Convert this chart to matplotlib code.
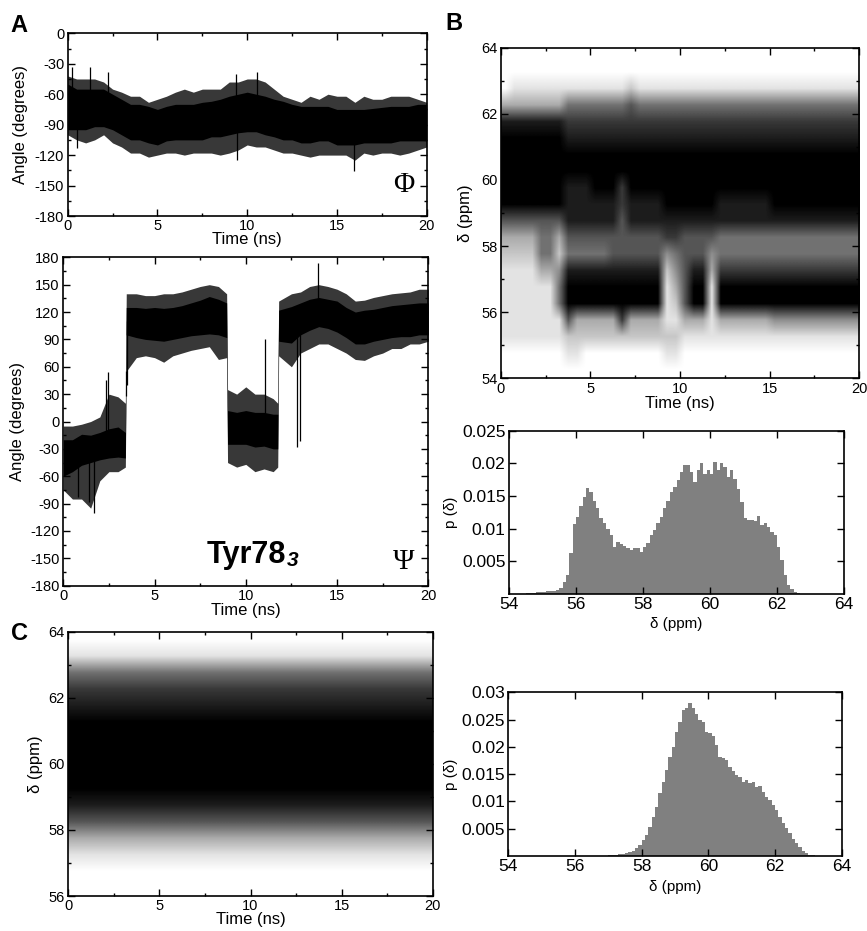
import numpy as np
import matplotlib
matplotlib.use("Agg")
import matplotlib.pyplot as plt
from matplotlib.ticker import MultipleLocator, FixedLocator, FormatStrFormatter

plt.rcParams['font.family'] = ['Liberation Sans', 'DejaVu Sans']
plt.rcParams['axes.unicode_minus'] = False

# ---------------- Panel A: Phi time series (envelopes read per 0.5 ns) -------------
phi_t = [0, 0.5, 1, 1.5, 2, 2.5, 3, 3.5, 4, 4.5, 5, 5.5, 6, 6.5, 7, 7.5, 8, 8.5, 9, 9.5, 10,
         10.5, 11, 11.5, 12, 12.5, 13, 13.5, 14, 14.5, 15, 15.5, 16, 16.5, 17, 17.5, 18, 18.5,
         19, 19.5, 20]
phi_core_hi = [-50, -55, -55, -55, -55, -60, -65, -70, -70, -72, -75, -72, -70, -70, -70, -68,
               -67, -65, -62, -60, -58, -60, -62, -65, -67, -70, -72, -72, -72, -72, -75, -75,
               -75, -75, -74, -73, -72, -72, -72, -70, -70]
phi_core_lo = [-95, -95, -95, -92, -92, -95, -100, -105, -105, -108, -110, -106, -105, -105,
               -105, -105, -102, -102, -100, -98, -97, -97, -100, -102, -105, -105, -108, -108,
               -106, -106, -110, -110, -110, -108, -108, -108, -108, -106, -106, -106, -106]
phi_outer_hi = [-42, -45, -45, -45, -48, -55, -58, -62, -62, -68, -65, -62, -58, -55, -58, -55,
                -55, -55, -48, -48, -45, -45, -48, -55, -62, -65, -68, -62, -65, -60, -62, -62,
                -68, -62, -65, -65, -62, -62, -62, -65, -68]
phi_outer_lo = [-100, -105, -108, -105, -100, -108, -112, -118, -118, -122, -120, -118, -118,
                -120, -118, -118, -118, -120, -118, -115, -110, -112, -112, -115, -118, -118,
                -120, -122, -120, -120, -120, -120, -125, -118, -120, -118, -118, -120, -118,
                -115, -112]
phi_spike_t = [0.22, 0.54, 1.24, 2.27, 9.38, 9.45, 10.53, 15.97]
phi_spike_v = [-33, -113, -33, -38, -40, -125, -38, -136]

# ---------------- Panel A: Psi time series ------------------------------------------
psi_t = [0.0, 0.5, 1.0, 1.5, 2.0, 2.5, 3.0, 3.4, 3.45, 4.0, 4.5, 5.0, 5.5, 6.0, 6.5, 7.0,
         7.5, 8.0, 8.5, 8.95, 9.0, 9.5, 10.0, 10.5, 11.0, 11.5, 11.75, 11.8, 12.5, 13.0,
         13.5, 14.0, 14.5, 15.0, 15.5, 16.0, 16.5, 17.0, 17.5, 18.0, 18.5, 19.0, 19.5, 20.0]
psi_core_lo = [-60, -55, -48, -45, -42, -40, -39, -40, 95, 92, 90, 89, 88, 90, 92, 94, 95, 96,
               95, 92, -25, -25, -25, -28, -27, -30, -30, 88, 86, 95, 100, 104, 102, 98, 92,
               85, 85, 88, 90, 92, 93, 93, 95, 95]
psi_core_hi = [-20, -20, -14, -15, -12, -8, -6, -12, 125, 125, 124, 125, 124, 125, 127, 130,
               133, 137, 134, 130, 12, 10, 12, 10, 10, 8, 8, 122, 126, 130, 134, 136, 134, 132,
               125, 120, 122, 123, 125, 127, 128, 129, 130, 130]
psi_outer_lo = [-75, -85, -85, -95, -65, -55, -55, -50, 55, 70, 72, 70, 65, 72, 75, 78, 80,
                82, 68, 70, -45, -50, -47, -55, -52, -55, -50, 72, 60, 75, 80, 85, 85, 80, 75,
                68, 67, 72, 75, 80, 80, 85, 85, 88]
psi_outer_hi = [-5, -5, -3, 0, 5, 30, 27, 20, 140, 140, 138, 138, 140, 140, 142, 145, 148, 150,
                148, 140, 35, 30, 38, 30, 30, 25, 20, 132, 140, 142, 148, 150, 148, 145, 140,
                132, 133, 136, 138, 140, 141, 142, 145, 145]
psi_spike_t = [0.8, 1.4, 1.7, 2.35, 2.45, 3.42, 3.5, 11.05, 12.82, 12.97, 13.94]
psi_spike_v = [-83, -88, -100, 45, 54, 55, 40, 90, -28, -21, 174]

# ---------------- Panel B: scatter density (darkness 0-9), rows 64->54 ppm, 0.5 ns cols
B_delta_top, B_delta_bottom = 64, 54
B_dark = [
    "0000000" "00000000000" "0" "0" "000" "0" "0000000000000000",  # 63.75
    "0000000" "00000000000" "0" "0" "000" "0" "0000000000000000",  # 63.25
    "0111111" "11111112111" "1" "1" "111" "1" "1111111111111111",  # 62.75
    "3333333" "55555556555" "5" "5" "555" "5" "5555555555555555",  # 62.25
    "8888888" "77777777777" "7" "7" "777" "7" "7777777777777777",  # 61.75
    "9999999" "88888888888" "8" "8" "888" "8" "8888888888888888",  # 61.25
    "9999999" "99999999999" "9" "9" "999" "9" "9999999999999999",  # 60.75
    "9999999" "99999999999" "9" "9" "999" "9" "9999999999999999",  # 60.25
    "9999999" "88899979999" "9" "9" "999" "9" "9999999999999999",  # 59.75
    "9999999" "88888878888" "9" "9" "999" "9" "8888889999999999",  # 59.25
    "6666666" "88888868888" "8" "8" "888" "8" "8888888888888888",  # 58.75
    "3333553" "66666666666" "7" "7" "666" "6" "5555555555555555",  # 58.25
    "2222552" "55555666666" "4" "5" "666" "4" "5555555555555555",  # 57.75
    "1111334" "88888888888" "2" "4" "688" "3" "7777777777777777",  # 57.25
    "1111115" "99999999999" "1" "3" "699" "1" "9999999999999999",  # 56.75
    "1111115" "99999999999" "1" "2" "699" "1" "9999999999999999",  # 56.25
    "1111111" "63333373333" "1" "1" "333" "1" "3333334444444444",  # 55.75
    "1111111" "22222222222" "2" "2" "111" "1" "1111111111111111",  # 55.25
    "0000000" "11000000000" "1" "1" "000" "0" "0000000000000000",  # 54.75
    "0000000" "00000000000" "0" "0" "000" "0" "0000000000000000",  # 54.25
]

# ---------------- Panel B: histogram ---------------------------------------------
hB_first_center = 54.55
hB_width = 0.1
hB_p = [0.0001, 0.0001, 0.0002, 0.0003, 0.0003, 0.0003, 0.0004, 0.0004, 0.0005, 0.0006,
        0.0009, 0.0018, 0.0029, 0.0063, 0.0107, 0.0118, 0.0135, 0.0148, 0.0162, 0.0156,
        0.0143, 0.0131, 0.0117, 0.0108, 0.0100, 0.0090, 0.0072, 0.0080, 0.0077, 0.0074,
        0.0070, 0.0068, 0.0071, 0.0070, 0.0065, 0.0072, 0.0078, 0.0090, 0.0098, 0.0108,
        0.0118, 0.0131, 0.0143, 0.0156, 0.0164, 0.0174, 0.0187, 0.0198, 0.0198, 0.0187,
        0.0171, 0.0190, 0.0200, 0.0184, 0.0190, 0.0184, 0.0202, 0.0190, 0.0200, 0.0195,
        0.0179, 0.0190, 0.0176, 0.0161, 0.0141, 0.0116, 0.0113, 0.0114, 0.0112, 0.0119,
        0.0106, 0.0108, 0.0102, 0.0095, 0.0090, 0.0072, 0.0052, 0.0029, 0.0014, 0.0007,
        0.0003, 0.0001]

# ---------------- Panel C: scatter density profile (rows 64->56 ppm, 0.5 ppm) -------
C_delta_top, C_delta_bottom = 64, 56
C_dark = [0, 1, 5, 7, 8, 9, 9, 9, 9, 9, 8, 6, 3, 1, 0, 0]

# ---------------- Panel C: histogram ---------------------------------------------
hC_first_center = 57.05
hC_width = 0.1
hC_p = [0.0001, 0.0001, 0.0002, 0.0003, 0.0003, 0.0005, 0.0008, 0.0010, 0.0014, 0.0020,
        0.0029, 0.0038, 0.0054, 0.0072, 0.0090, 0.0115, 0.0136, 0.0158, 0.0182, 0.0200,
        0.0228, 0.0246, 0.0268, 0.0272, 0.0281, 0.0272, 0.0261, 0.0249, 0.0246, 0.0228,
        0.0225, 0.0219, 0.0203, 0.0182, 0.0179, 0.0176, 0.0164, 0.0155, 0.0148, 0.0145,
        0.0136, 0.0139, 0.0133, 0.0136, 0.0127, 0.0128, 0.0118, 0.0109, 0.0103, 0.0093,
        0.0084, 0.0072, 0.0060, 0.0051, 0.0042, 0.0032, 0.0023, 0.0016, 0.0010, 0.0005,
        0.0002, 0.0001]

# =====================================================================================
W, H = 867, 931
fig = plt.figure(figsize=(W / 100, H / 100), dpi=100)


def add_ax(l, r, t, b):
    return fig.add_axes([l / W, 1 - b / H, (r - l) / W, (b - t) / H])


def style(ax, fs):
    ax.tick_params(which='both', direction='in', top=True, right=True, labelsize=fs,
                   width=1.0, pad=2.5)
    ax.tick_params(which='major', length=5)
    ax.tick_params(which='minor', length=2.5)
    for s in ax.spines.values():
        s.set_linewidth(1.2)


def series(ax, t, clo, chi, olo, ohi, st, sv):
    t = np.asarray(t, float)
    ax.fill_between(t, olo, ohi, color='#383838', lw=0)
    ax.fill_between(t, clo, chi, color='black', lw=0)
    mid = (np.asarray(clo, float) + np.asarray(chi, float)) / 2
    base = np.interp(st, t, mid)
    ax.vlines(st, base, sv, color='black', lw=0.9)


def hist(ax, first_center, width, p):
    p = np.asarray(p, float)
    edges = first_center - width / 2 + width * np.arange(len(p) + 1)
    ax.stairs(p, edges, fill=True, color='#808080', lw=0)


# ---- A top (Phi)
axA1 = add_ax(67.7, 426.7, 33.3, 216)
series(axA1, phi_t, phi_core_lo, phi_core_hi, phi_outer_lo, phi_outer_hi, phi_spike_t, phi_spike_v)
axA1.set_xlim(0, 20)
axA1.set_ylim(-180, 0)
axA1.xaxis.set_major_locator(MultipleLocator(5))
axA1.xaxis.set_minor_locator(MultipleLocator(2.5))
axA1.yaxis.set_major_locator(MultipleLocator(30))
axA1.yaxis.set_minor_locator(MultipleLocator(15))
style(axA1, 10.5)
axA1.set_xlabel('Time (ns)', fontsize=12)
axA1.set_ylabel('Angle (degrees)', fontsize=12)
axA1.xaxis.set_label_coords(0.5, -0.088)
axA1.yaxis.set_label_coords(-0.111, 0.5)
axA1.text(18.73, -149.5, '\u03A6', family=['Liberation Serif', 'DejaVu Serif'], fontsize=21,
          ha='center', va='center')

# ---- A bottom (Psi)
axA2 = add_ax(63.3, 428.3, 257.3, 585.7)
series(axA2, psi_t, psi_core_lo, psi_core_hi, psi_outer_lo, psi_outer_hi, psi_spike_t, psi_spike_v)
axA2.set_xlim(0, 20)
axA2.set_ylim(-180, 180)
axA2.xaxis.set_major_locator(MultipleLocator(5))
axA2.xaxis.set_minor_locator(MultipleLocator(2.5))
axA2.yaxis.set_major_locator(MultipleLocator(30))
axA2.yaxis.set_minor_locator(MultipleLocator(15))
style(axA2, 10.5)
axA2.set_xlabel('Time (ns)', fontsize=12)
axA2.set_ylabel('Angle (degrees)', fontsize=12)
axA2.xaxis.set_label_coords(0.5, -0.053)
axA2.yaxis.set_label_coords(-0.105, 0.5)
axA2.text(18.67, -154, '\u03A8', family=['Liberation Serif', 'DejaVu Serif'], fontsize=21,
          ha='center', va='center')
tyr = axA2.text(7.86, -155, 'Tyr78', fontsize=22, fontweight='bold', ha='left', va='baseline')
axA2.annotate('3', xy=(1.0, 0.0), xycoords=tyr, xytext=(0.5, 0), textcoords='offset points',
              fontsize=15, fontweight='bold', style='italic', ha='left', va='bottom')

# ---- B top scatter density
axB1 = add_ax(500.7, 859.3, 47.7, 378.3)
Bimg = np.array([[int(c) for c in row] for row in B_dark], float)
axB1.imshow(Bimg, cmap='gray_r', vmin=0, vmax=9, aspect='auto', interpolation='bilinear',
            extent=(0, 20, B_delta_bottom, B_delta_top), origin='upper')
axB1.set_xlim(0, 20)
axB1.set_ylim(54, 64)
axB1.xaxis.set_major_locator(MultipleLocator(5))
axB1.xaxis.set_minor_locator(MultipleLocator(2.5))
axB1.yaxis.set_major_locator(MultipleLocator(2))
axB1.yaxis.set_minor_locator(MultipleLocator(1))
style(axB1, 10.5)
axB1.set_xlabel('Time (ns)', fontsize=12)
axB1.set_ylabel('\u03B4 (ppm)', fontsize=12)
axB1.xaxis.set_label_coords(0.5, -0.054)
axB1.yaxis.set_label_coords(-0.077, 0.5)

# ---- B histogram
axB2 = add_ax(509, 844, 430.7, 594)
hist(axB2, hB_first_center, hB_width, hB_p)
axB2.set_xlim(54, 64)
axB2.set_ylim(0, 0.025)
axB2.xaxis.set_major_locator(MultipleLocator(2))
axB2.yaxis.set_major_locator(FixedLocator([0.005, 0.01, 0.015, 0.02, 0.025]))
axB2.yaxis.set_major_formatter(FormatStrFormatter('%g'))
style(axB2, 12.5)
axB2.set_xlabel('\u03B4 (ppm)', fontsize=11)
axB2.set_ylabel('p (\u03B4)', fontsize=11)
axB2.xaxis.set_label_coords(0.5, -0.141)
axB2.yaxis.set_label_coords(-0.152, 0.5)

# ---- C scatter density
axC1 = add_ax(68.3, 432.7, 631.7, 896)
Cimg = np.array(C_dark, float)[:, None] * np.ones((1, 2))
axC1.imshow(Cimg, cmap='gray_r', vmin=0, vmax=9, aspect='auto', interpolation='bilinear',
            extent=(0, 20, C_delta_bottom, C_delta_top), origin='upper')
axC1.set_xlim(0, 20)
axC1.set_ylim(56, 64)
axC1.xaxis.set_major_locator(MultipleLocator(5))
axC1.xaxis.set_minor_locator(MultipleLocator(2.5))
axC1.yaxis.set_major_locator(MultipleLocator(2))
axC1.yaxis.set_minor_locator(MultipleLocator(1))
style(axC1, 10.5)
axC1.set_xlabel('Time (ns)', fontsize=12)
axC1.set_ylabel('\u03B4 (ppm)', fontsize=12)
axC1.xaxis.set_label_coords(0.5, -0.06)
axC1.yaxis.set_label_coords(-0.069, 0.5)

# ---- C histogram
axC2 = add_ax(508.3, 841.7, 692.3, 856)
hist(axC2, hC_first_center, hC_width, hC_p)
axC2.set_xlim(54, 64)
axC2.set_ylim(0, 0.03)
axC2.xaxis.set_major_locator(MultipleLocator(2))
axC2.yaxis.set_major_locator(FixedLocator([0.005, 0.01, 0.015, 0.02, 0.025, 0.03]))
axC2.yaxis.set_major_formatter(FormatStrFormatter('%g'))
style(axC2, 12.5)
axC2.set_xlabel('\u03B4 (ppm)', fontsize=11)
axC2.set_ylabel('p (\u03B4)', fontsize=11)
axC2.xaxis.set_label_coords(0.5, -0.147)
axC2.yaxis.set_label_coords(-0.151, 0.5)

# ---- panel letters
fig.text(10 / W, 1 - 14 / H, 'A', fontsize=17, fontweight='bold', ha='left', va='top')
fig.text(445 / W, 1 - 12 / H, 'B', fontsize=17, fontweight='bold', ha='left', va='top')
fig.text(11 / W, 1 - 622 / H, 'C', fontsize=17, fontweight='bold', ha='left', va='top')

fig.savefig('out.png', dpi=100)
